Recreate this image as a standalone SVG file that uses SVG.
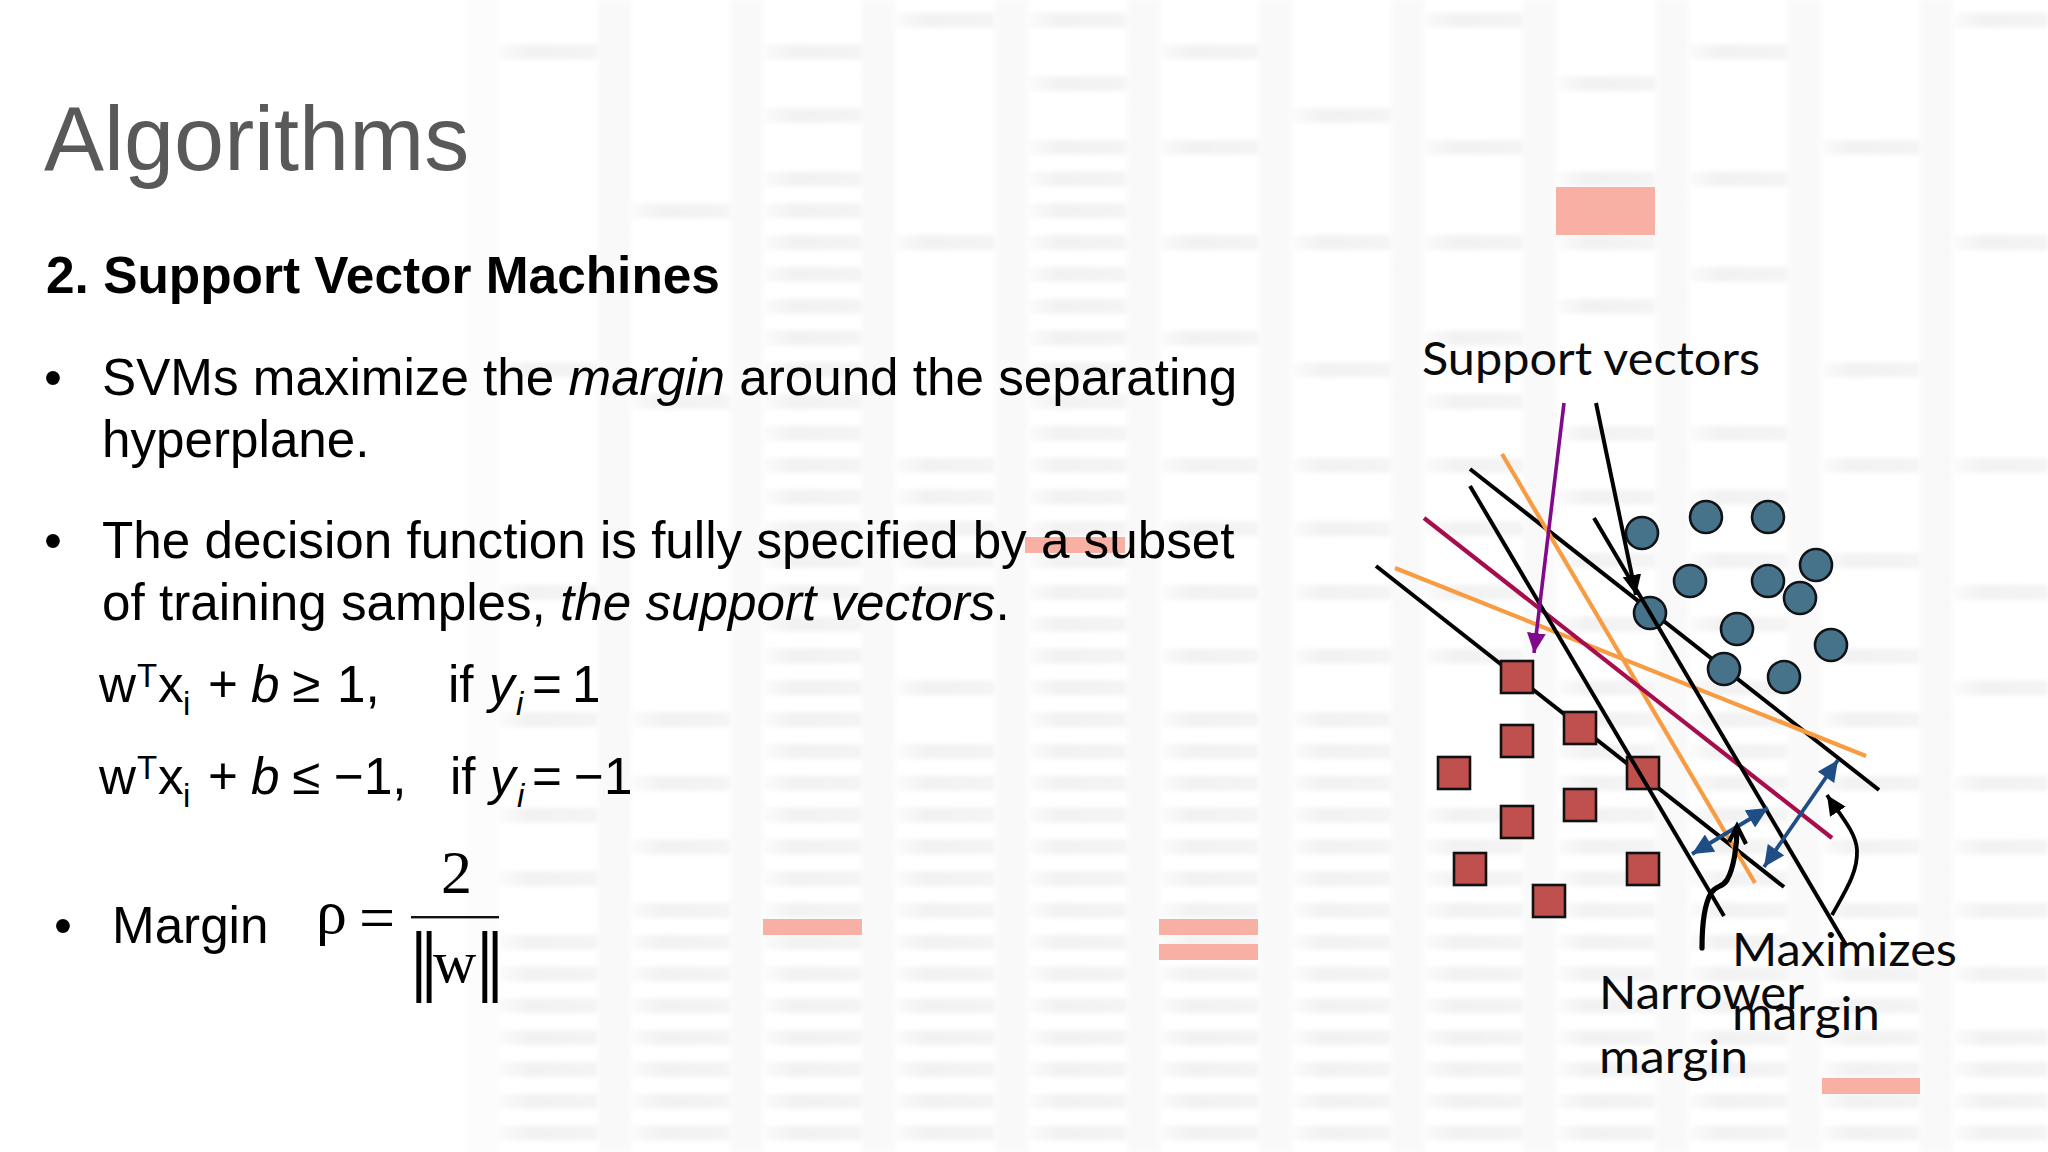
<svg xmlns="http://www.w3.org/2000/svg" xmlns:xlink="http://www.w3.org/1999/xlink" width="2048" height="1152" viewBox="0 0 2048 1152">
<style>
.sans{font-family:"Liberation Sans",Arial,sans-serif;fill:#000}
.body{font-size:51.2px}
.it{font-style:italic}
.serif{font-family:"Liberation Serif","Times New Roman",serif;fill:#000}
.cal{font-family:Lato,"Open Sans",sans-serif;font-size:46px;fill:#0a0a0a}
.sup{font-size:33px}
.peach{fill:#f7b0a3}
.band{fill:#f9f9fa}
.c{fill:#467389;stroke:#101418;stroke-width:2.6}
.s{fill:#c0504d;stroke:#111;stroke-width:2.6}
.l{fill:none;stroke:#000;stroke-width:4;stroke-linecap:butt}
.o{fill:none;stroke:#f79c42;stroke-width:4.2}
.blue{fill:none;stroke:#1f4e85;stroke-width:3.8;marker-start:url(#bh);marker-end:url(#bh)}
</style>
<defs>
<linearGradient id="sg" x1="0" x2="1" y1="0" y2="0">
<stop offset="0" stop-color="#fbfbfb"/><stop offset=".3" stop-color="#f2f2f3"/><stop offset="1" stop-color="#f4f4f5"/>
</linearGradient>
<pattern id="stubs" patternUnits="userSpaceOnUse" x="499" y="12.5" width="132.2" height="31.8">
<rect x="0" y="0" width="99" height="15" fill="url(#sg)"/>
</pattern>
<filter id="blur" x="-5%" y="-5%" width="110%" height="110%"><feGaussianBlur stdDeviation="2.2"/></filter>
<marker id="bh" markerUnits="userSpaceOnUse" markerWidth="22" markerHeight="20" refX="19" refY="9" orient="auto-start-reverse" viewBox="0 0 19 18"><path d="M0 0L19 9L0 18z" fill="#1f4e85"/></marker>
<marker id="ph" markerUnits="userSpaceOnUse" markerWidth="20" markerHeight="20" refX="17" refY="8" orient="auto" viewBox="0 0 17 16"><path d="M0 0L17 8L0 16z" fill="#800a8c"/></marker>
<marker id="kh" markerUnits="userSpaceOnUse" markerWidth="20" markerHeight="20" refX="15" refY="7" orient="auto" viewBox="0 0 15 14"><path d="M0 0L15 7L0 14z" fill="#000"/></marker>
</defs>
<rect width="2048" height="1152" fill="#fff"/>
<g id="background">
<g filter="url(#blur)">
<rect x="466" y="0" width="33" height="1152" fill="#fcfcfd"/>
<rect class="band" x="598" y="0" width="33" height="1152"/>
<rect class="band" x="730" y="0" width="33" height="1152"/>
<rect class="band" x="862" y="0" width="33" height="1152"/>
<rect class="band" x="995" y="0" width="33" height="1152"/>
<rect class="band" x="1127" y="0" width="33" height="1152"/>
<rect class="band" x="1259" y="0" width="33" height="1152"/>
<rect class="band" x="1391" y="0" width="33" height="1152"/>
<rect class="band" x="1523" y="0" width="33" height="1152"/>
<rect class="band" x="1656" y="0" width="33" height="1152"/>
<rect class="band" x="1788" y="0" width="33" height="1152"/>
<rect class="band" x="1920" y="0" width="33" height="1152"/>
</g>
<g filter="url(#blur)" fill="url(#stubs)">
<!-- col 1 -->
<rect x="499" y="44.3" width="99" height="31.8"/><rect x="499" y="362.3" width="99" height="31.8"/><rect x="499" y="584.9" width="99" height="31.8"/><rect x="499" y="712.1" width="99" height="31.8"/><rect x="499" y="807.5" width="99" height="31.8"/><rect x="499" y="871.1" width="99" height="31.8"/><rect x="499" y="934.7" width="99" height="217"/>
<!-- col 2 -->
<rect x="631" y="203.3" width="99" height="31.8"/><rect x="631" y="394.1" width="99" height="31.8"/><rect x="631" y="712.1" width="99" height="31.8"/><rect x="631" y="775.7" width="99" height="31.8"/><rect x="631" y="839.3" width="99" height="31.8"/><rect x="631" y="902.9" width="99" height="249"/>
<!-- col 3 -->
<rect x="763" y="44.3" width="99" height="31.8"/><rect x="763" y="107.9" width="99" height="31.8"/><rect x="763" y="171.5" width="99" height="980"/>
<!-- col 4 -->
<rect x="896" y="12.5" width="99" height="31.8"/><rect x="896" y="235.1" width="99" height="31.8"/><rect x="896" y="457.7" width="99" height="159"/><rect x="896" y="680.3" width="99" height="31.8"/><rect x="896" y="743.9" width="99" height="408"/>
<!-- col 5 -->
<rect x="1028" y="12.5" width="99" height="31.8"/><rect x="1028" y="76.1" width="99" height="31.8"/><rect x="1028" y="139.7" width="99" height="1012"/>
<!-- col 6 -->
<rect x="1160" y="44.3" width="99" height="31.8"/><rect x="1160" y="139.7" width="99" height="31.8"/><rect x="1160" y="235.1" width="99" height="31.8"/><rect x="1160" y="330.5" width="99" height="31.8"/><rect x="1160" y="457.7" width="99" height="31.8"/><rect x="1160" y="521.3" width="99" height="31.8"/><rect x="1160" y="584.9" width="99" height="31.8"/><rect x="1160" y="648.5" width="99" height="31.8"/><rect x="1160" y="712.1" width="99" height="440"/>
<!-- col 7 -->
<rect x="1292" y="107.9" width="99" height="31.8"/><rect x="1292" y="235.1" width="99" height="31.8"/><rect x="1292" y="362.3" width="99" height="31.8"/><rect x="1292" y="457.7" width="99" height="31.8"/><rect x="1292" y="521.3" width="99" height="31.8"/><rect x="1292" y="584.9" width="99" height="31.8"/><rect x="1292" y="648.5" width="99" height="31.8"/><rect x="1292" y="712.1" width="99" height="440"/>
<!-- col 8 -->
<rect x="1424" y="12.5" width="99" height="31.8"/><rect x="1424" y="139.7" width="99" height="31.8"/><rect x="1424" y="235.1" width="99" height="31.8"/><rect x="1424" y="330.5" width="99" height="31.8"/><rect x="1424" y="394.1" width="99" height="31.8"/><rect x="1424" y="457.7" width="99" height="31.8"/><rect x="1424" y="521.3" width="99" height="31.8"/><rect x="1424" y="584.9" width="99" height="31.8"/><rect x="1424" y="648.5" width="99" height="31.8"/><rect x="1424" y="807.5" width="99" height="345"/>
<!-- col 9 -->
<rect x="1557" y="76.1" width="99" height="31.8"/><rect x="1557" y="171.5" width="99" height="31.8"/><rect x="1557" y="235.1" width="99" height="31.8"/><rect x="1557" y="298.7" width="99" height="31.8"/><rect x="1557" y="425.9" width="99" height="31.8"/><rect x="1557" y="489.5" width="99" height="31.8"/><rect x="1557" y="553.1" width="99" height="31.8"/><rect x="1557" y="616.7" width="99" height="31.8"/><rect x="1557" y="680.3" width="99" height="472"/>
<!-- col 10 -->
<rect x="1689" y="44.3" width="99" height="31.8"/><rect x="1689" y="171.5" width="99" height="31.8"/><rect x="1689" y="266.9" width="99" height="31.8"/><rect x="1689" y="425.9" width="99" height="31.8"/><rect x="1689" y="489.5" width="99" height="31.8"/><rect x="1689" y="553.1" width="99" height="31.8"/><rect x="1689" y="616.7" width="99" height="31.8"/><rect x="1689" y="680.3" width="99" height="472"/>
<!-- col 11 -->
<rect x="1821" y="139.7" width="99" height="31.8"/><rect x="1821" y="362.3" width="99" height="31.8"/><rect x="1821" y="457.7" width="99" height="31.8"/><rect x="1821" y="553.1" width="99" height="31.8"/><rect x="1821" y="648.5" width="99" height="31.8"/><rect x="1821" y="712.1" width="99" height="31.8"/><rect x="1821" y="775.7" width="99" height="31.8"/><rect x="1821" y="839.3" width="99" height="31.8"/><rect x="1821" y="902.9" width="99" height="31.8"/><rect x="1821" y="966.5" width="99" height="186"/>
<!-- col 12 -->
<rect x="1953" y="12.5" width="95" height="31.8"/><rect x="1953" y="235.1" width="95" height="31.8"/><rect x="1953" y="457.7" width="95" height="31.8"/><rect x="1953" y="584.9" width="95" height="31.8"/><rect x="1953" y="680.3" width="95" height="31.8"/><rect x="1953" y="775.7" width="95" height="31.8"/><rect x="1953" y="839.3" width="95" height="31.8"/><rect x="1953" y="902.9" width="95" height="31.8"/><rect x="1953" y="966.5" width="95" height="31.8"/><rect x="1953" y="1030.1" width="95" height="122"/>
</g>
<rect class="peach" x="1556" y="187" width="99" height="48"/>
<rect class="peach" x="1025" y="537" width="100" height="16"/>
<rect class="peach" x="763" y="919" width="99" height="16"/>
<rect class="peach" x="1159" y="919" width="99" height="16"/>
<rect class="peach" x="1159" y="944" width="99" height="16"/>
<rect class="peach" x="1822" y="1078" width="98" height="16"/>
</g>
<g id="slide-text">
<text class="sans" x="44" y="170" font-size="90" style="fill:#595959">Algorithms</text>
<text class="sans" x="46" y="293" font-size="51.4" font-weight="700">2. Support Vector Machines</text>
<text class="sans body" x="44" y="395">•</text>
<text class="sans body" x="102" y="395">SVMs maximize the <tspan class="it">margin</tspan> around the separating</text>
<text class="sans body" x="102" y="457">hyperplane.</text>
<text class="sans body" x="44" y="558">•</text>
<text class="sans body" x="102" y="558">The decision function is fully specified by a subset</text>
<text class="sans body" x="102" y="620">of training samples, <tspan class="it">the support vectors</tspan>.</text>
<text class="sans body" y="702"><tspan x="99">w</tspan><tspan x="137" y="687" class="sup">T</tspan><tspan x="158" y="702">x</tspan><tspan x="183" y="715" class="sup">i</tspan><tspan x="208" y="702">+</tspan><tspan x="251" class="it">b</tspan><tspan x="292">≥</tspan><tspan x="337">1,</tspan><tspan x="448">if</tspan><tspan x="489" class="it">y</tspan><tspan x="516" y="715" class="sup it">i</tspan><tspan x="532" y="702">=</tspan><tspan x="572">1</tspan></text>
<text class="sans body" y="794"><tspan x="99">w</tspan><tspan x="137" y="779" class="sup">T</tspan><tspan x="158" y="794">x</tspan><tspan x="183" y="807" class="sup">i</tspan><tspan x="208" y="794">+</tspan><tspan x="251" class="it">b</tspan><tspan x="292">≤</tspan><tspan x="334">−1,</tspan><tspan x="450">if</tspan><tspan x="490" class="it">y</tspan><tspan x="517" y="807" class="sup it">i</tspan><tspan x="532" y="794">=</tspan><tspan x="574">−1</tspan></text>
<text class="sans body" x="54" y="943">•</text>
<text class="sans body" x="112" y="943">Margin</text>
<text class="serif" x="316" y="933" font-size="62">ρ</text>
<text class="serif" x="359" y="939" font-size="64">=</text>
<text class="serif" x="441" y="893" font-size="62">2</text>
<rect x="411" y="916" width="88" height="2.4" fill="#111"/>
<text class="serif" x="409.5" y="1003" font-size="103">‖</text>
<text class="serif" x="433" y="982" font-size="60">w</text>
<text class="serif" x="475.5" y="1003" font-size="103">‖</text>
</g>
<g id="connectors-behind">
<path class="l" d="M1470 469L1879 790"/>
<path class="l" d="M1376 566L1784 887"/>
</g>
<g id="nodes">
<circle id="c1" class="c" cx="1642" cy="533" r="16"/>
<circle id="c2" class="c" cx="1706" cy="517" r="16"/>
<circle id="c3" class="c" cx="1768" cy="517" r="16"/>
<circle id="c4" class="c" cx="1816" cy="565" r="16"/>
<circle id="c5" class="c" cx="1690" cy="581" r="16"/>
<circle id="c6" class="c" cx="1768" cy="581" r="16"/>
<circle id="c7" class="c" cx="1800" cy="598" r="16"/>
<circle id="c8" class="c" cx="1650" cy="613" r="16"/>
<circle id="c9" class="c" cx="1737" cy="629" r="16"/>
<circle id="c10" class="c" cx="1831" cy="645" r="16"/>
<circle id="c11" class="c" cx="1724" cy="669" r="16"/>
<circle id="c12" class="c" cx="1784" cy="677" r="16"/>
<rect id="s1" class="s" x="1501" y="661" width="32" height="32"/>
<rect id="s2" class="s" x="1564" y="712" width="32" height="32"/>
<rect id="s3" class="s" x="1501" y="725" width="32" height="32"/>
<rect id="s4" class="s" x="1438" y="757" width="32" height="32"/>
<rect id="s5" class="s" x="1627" y="757" width="32" height="32"/>
<rect id="s6" class="s" x="1564" y="789" width="32" height="32"/>
<rect id="s7" class="s" x="1501" y="806" width="32" height="32"/>
<rect id="s8" class="s" x="1454" y="853" width="32" height="32"/>
<rect id="s9" class="s" x="1627" y="853" width="32" height="32"/>
<rect id="s10" class="s" x="1533" y="885" width="32" height="32"/>
</g>
<g id="connectors">
<path class="o" d="M1502 454L1755 883"/>
<path class="o" d="M1395 568L1866 756"/>
<path d="M1424 518L1832 838" fill="none" stroke="#a50d4d" stroke-width="4.2"/>
<path class="l" d="M1470 486L1724 916"/>
<path class="l" d="M1594 518L1846 945"/>
<path d="M1564 403L1534 653" fill="none" stroke="#800a8c" stroke-width="3.6" marker-end="url(#ph)"/>
<path class="l" d="M1596 403L1636 595" marker-end="url(#kh)"/>
<path class="blue" d="M1692 854L1768 808"/>
<path class="blue" d="M1764 867L1838 760"/>
<path class="l" style="stroke-width:5.2;stroke-linecap:round" d="M1702 948C1702 925 1704 905 1711 893C1716 885 1722 888 1727 880C1734 868 1737 845 1737 828"/>
<path class="l" style="stroke-width:4.2" d="M1729 842L1737 826L1746 844"/>
<path class="l" style="stroke-width:3.8" d="M1832 915C1846 890 1858 872 1857 850C1856 832 1840 815 1827 795" marker-end="url(#kh)"/>
</g>
<g id="labels">
<text class="cal" x="1422" y="375" textLength="338" lengthAdjust="spacingAndGlyphs">Support vectors</text>
<text class="cal" x="1732" y="966" textLength="225" lengthAdjust="spacingAndGlyphs">Maximizes</text>
<text class="cal" x="1732" y="1030" textLength="148" lengthAdjust="spacingAndGlyphs">margin</text>
<text class="cal" x="1599" y="1009" textLength="205" lengthAdjust="spacingAndGlyphs">Narrower</text>
<text class="cal" x="1599" y="1073" textLength="149" lengthAdjust="spacingAndGlyphs">margin</text>
</g>
</svg>
